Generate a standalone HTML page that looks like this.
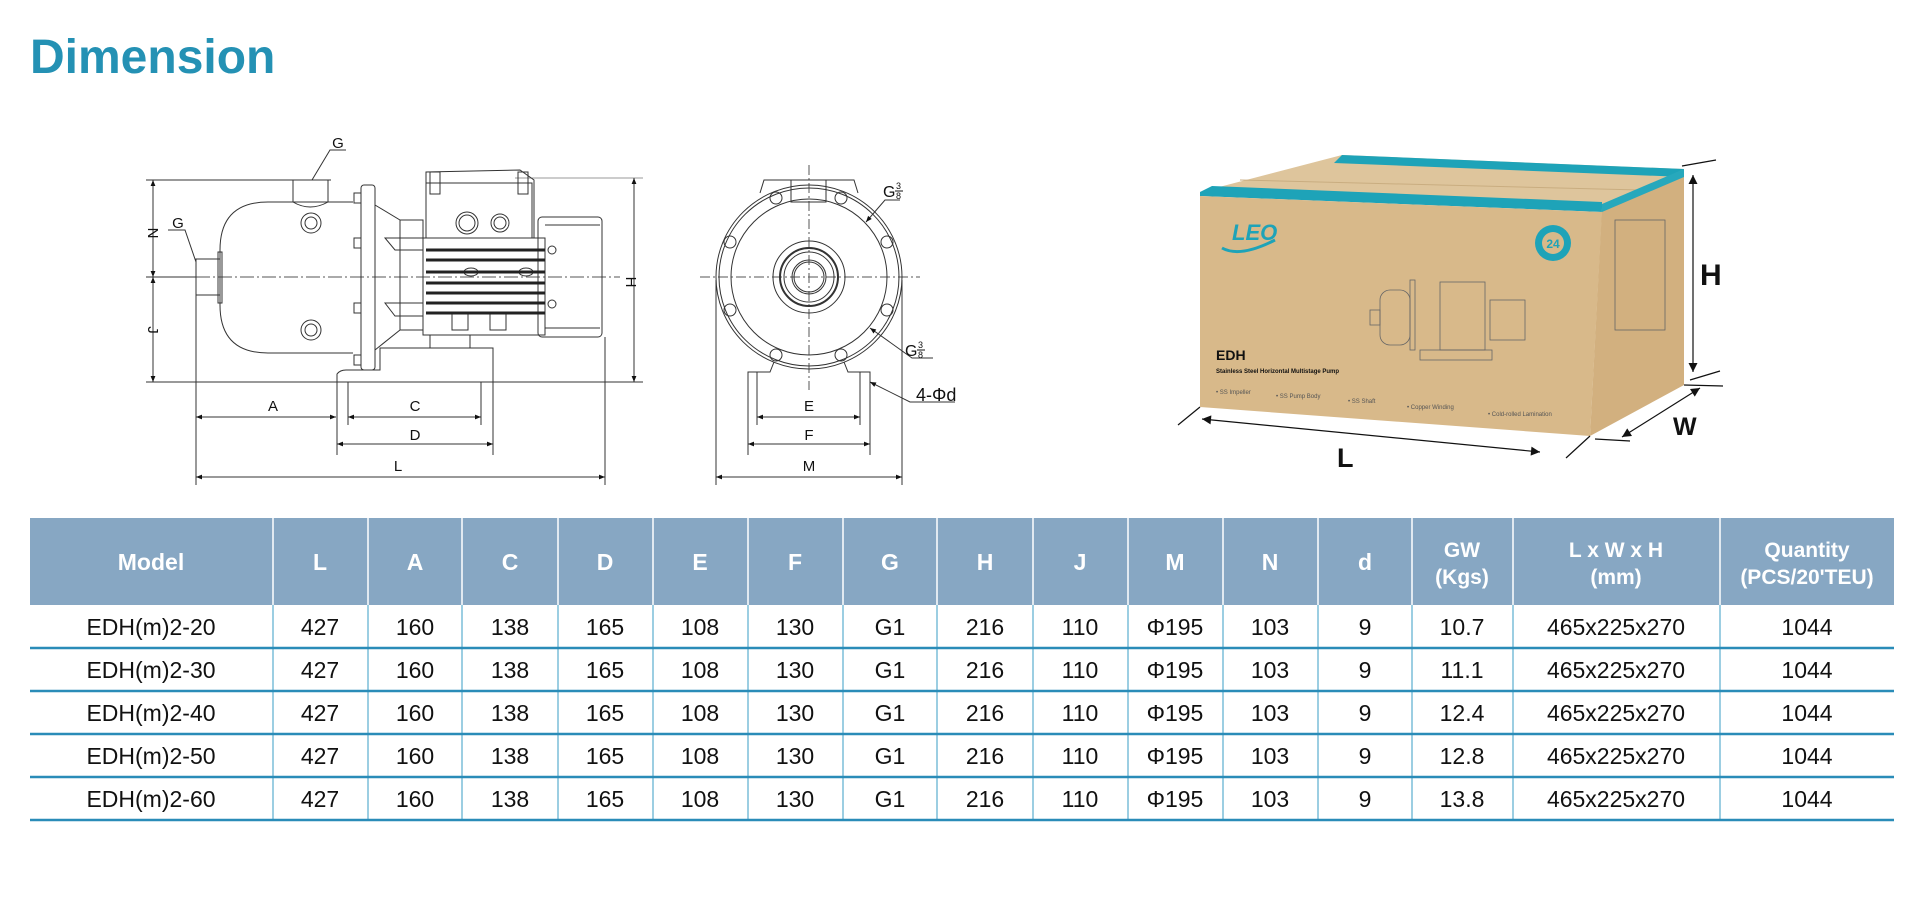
<!DOCTYPE html>
<html><head><meta charset="utf-8"><style>
html,body{margin:0;padding:0;background:#fff;}
svg{display:block;}
text{font-family:"Liberation Sans",Arial,sans-serif;}
</style></head><body>
<svg width="1926" height="897" viewBox="0 0 1926 897" xmlns="http://www.w3.org/2000/svg">
<defs>
<marker id="ar" viewBox="0 0 10 10" refX="10" refY="5" markerWidth="12" markerHeight="6" orient="auto-start-reverse" markerUnits="userSpaceOnUse"><path d="M0,1 L10,5 L0,9 z" fill="#111"/></marker>
<marker id="ab" viewBox="0 0 10 10" refX="10" refY="5" markerWidth="16" markerHeight="9" orient="auto-start-reverse" markerUnits="userSpaceOnUse"><path d="M0,0 L10,5 L0,10 z" fill="#111"/></marker>
</defs>
<rect width="1926" height="897" fill="#fff"/>
<text x="30" y="73" font-size="48" font-weight="bold" fill="#2491b4">Dimension</text>

<!-- SIDE VIEW -->
<g stroke="#333" stroke-width="1" fill="none">
<line x1="146" y1="180" x2="331" y2="180"/>
<line x1="515" y1="178" x2="643" y2="178" stroke="#999"/>
<line x1="146" y1="382" x2="643" y2="382"/>
<line x1="146" y1="277" x2="196" y2="277"/>
<line x1="153" y1="180" x2="153" y2="277" marker-start="url(#ar)" marker-end="url(#ar)"/>
<line x1="153" y1="277" x2="153" y2="382" marker-start="url(#ar)" marker-end="url(#ar)"/>
<line x1="634" y1="178" x2="634" y2="382" marker-start="url(#ar)" marker-end="url(#ar)"/>
<line x1="196" y1="277" x2="620" y2="277" stroke-dasharray="14,3,2,3" stroke="#555"/>
<path d="M353,202 L268,202 Q220,202 220,250 L220,305 Q220,353 268,353 L353,353"/>
<rect x="196" y="259" width="24" height="36"/>
<rect x="218" y="252" width="4" height="51"/>
<rect x="293" y="180" width="35" height="22"/>
<path d="M293,202 Q310,212 328,202"/>
<circle cx="311" cy="223" r="10"/><circle cx="311" cy="223" r="6"/>
<circle cx="311" cy="330" r="10"/><circle cx="311" cy="330" r="6"/>
<rect x="361" y="185" width="14" height="185" rx="3"/>
<rect x="354" y="193" width="7" height="10"/><rect x="354" y="238" width="7" height="10"/>
<rect x="354" y="303" width="7" height="10"/><rect x="354" y="355" width="7" height="10"/>
<path d="M375,205 L400,220 L423,220 M375,350 L400,330 L423,330"/>
<rect x="400" y="220" width="23" height="110"/>
<path d="M385,238 L423,238 L423,250 L395,250 Z M385,303 L423,303 L423,316 L395,316 Z"/>
<rect x="426" y="183" width="106" height="55"/>
<path d="M426,183 L426,172 L520,170 L534,180 L534,238"/>
<rect x="430" y="172" width="10" height="22"/><rect x="518" y="172" width="10" height="22"/>
<circle cx="467" cy="223" r="11"/><circle cx="467" cy="223" r="8"/>
<circle cx="500" cy="223" r="9"/><circle cx="500" cy="223" r="6"/>
<rect x="423" y="238" width="122" height="97"/>
<rect x="452" y="313" width="16" height="17"/><rect x="490" y="313" width="16" height="17"/>
<rect x="538" y="217" width="64" height="120" rx="4"/>
<line x1="545" y1="225" x2="600" y2="225"/><line x1="545" y1="328" x2="600" y2="328"/>
<circle cx="552" cy="250" r="4"/><circle cx="552" cy="304" r="4"/>
<ellipse cx="471" cy="272" rx="7" ry="4"/><ellipse cx="526" cy="272" rx="7" ry="4"/>
<path d="M337,382 L337,374 Q340,370 346,370 L380,370 L380,348 L493,348 L493,382"/>
<line x1="430" y1="335" x2="430" y2="348"/><line x1="470" y1="335" x2="470" y2="348"/>
<line x1="196" y1="295" x2="196" y2="485"/>
<line x1="337" y1="382" x2="337" y2="455"/>
<line x1="348" y1="382" x2="348" y2="425"/>
<line x1="481" y1="382" x2="481" y2="425"/>
<line x1="493" y1="382" x2="493" y2="455"/>
<line x1="605" y1="337" x2="605" y2="485"/>
<line x1="196" y1="417" x2="336" y2="417" marker-start="url(#ar)" marker-end="url(#ar)"/>
<line x1="348" y1="417" x2="481" y2="417" marker-start="url(#ar)" marker-end="url(#ar)"/>
<line x1="337" y1="444" x2="493" y2="444" marker-start="url(#ar)" marker-end="url(#ar)"/>
<line x1="196" y1="477" x2="605" y2="477" marker-start="url(#ar)" marker-end="url(#ar)"/>
<path d="M346,150 L330,150 L312,180" /><path d="M168,230 L185,230 L196,262"/>
</g>
<g stroke="#222" stroke-width="3">
<line x1="426" y1="250" x2="545" y2="250"/><line x1="426" y1="260" x2="545" y2="260"/>
<line x1="426" y1="272" x2="545" y2="272"/><line x1="426" y1="283" x2="545" y2="283"/>
<line x1="426" y1="293" x2="545" y2="293"/><line x1="426" y1="303" x2="545" y2="303"/>
<line x1="426" y1="313" x2="545" y2="313"/>
</g>
<g font-size="15" fill="#111" text-anchor="middle">
<text x="338" y="148">G</text><text x="178" y="228">G</text>
<text x="273" y="411">A</text><text x="415" y="411">C</text><text x="415" y="440">D</text><text x="398" y="471">L</text>
<text x="148" y="233" transform="rotate(90 148 233)">N</text>
<text x="148" y="330" transform="rotate(90 148 330)">J</text>
<text x="626" y="282" transform="rotate(90 626 282)">H</text>
</g>

<!-- FRONT VIEW -->
<g stroke="#333" stroke-width="1" fill="none">
<line x1="809" y1="165" x2="809" y2="390" stroke-dasharray="10,3,2,3" stroke="#555"/>
<line x1="700" y1="277" x2="920" y2="277" stroke-dasharray="10,3,2,3" stroke="#555"/>
<path d="M760,193 L764,180 L854,180 L858,193"/>
<rect x="791" y="180" width="35" height="22"/>
<ellipse cx="809" cy="277" rx="93" ry="92"/>
<ellipse cx="809" cy="277" rx="90" ry="89"/>
<circle cx="809" cy="277" r="78"/>
<circle cx="809" cy="277" r="36"/><circle cx="809" cy="277" r="29" stroke-width="2"/>
<circle cx="809" cy="277" r="25"/><circle cx="809" cy="277" r="17"/><circle cx="809" cy="277" r="15"/>
<circle cx="730" cy="242" r="6"/><circle cx="730" cy="310" r="6"/>
<circle cx="887" cy="242" r="6"/><circle cx="887" cy="310" r="6"/>
<circle cx="776" cy="198" r="6"/><circle cx="841" cy="198" r="6"/>
<circle cx="776" cy="355" r="6"/><circle cx="841" cy="355" r="6"/>
<path d="M748,382 L748,372 L770,372 L774,362 M870,382 L870,372 L848,372 L844,362"/>
<line x1="757" y1="372" x2="757" y2="425"/><line x1="860" y1="372" x2="860" y2="425"/>
<line x1="748" y1="382" x2="748" y2="455"/><line x1="870" y1="382" x2="870" y2="455"/>
<line x1="716" y1="280" x2="716" y2="485"/><line x1="902" y1="280" x2="902" y2="485"/>
<line x1="757" y1="417" x2="860" y2="417" marker-start="url(#ar)" marker-end="url(#ar)"/>
<line x1="748" y1="444" x2="870" y2="444" marker-start="url(#ar)" marker-end="url(#ar)"/>
<line x1="716" y1="477" x2="902" y2="477" marker-start="url(#ar)" marker-end="url(#ar)"/>
<path d="M900,200 L885,200 L866,222" marker-end="url(#ar)"/>
<path d="M933,358 L912,358 L870,328" marker-end="url(#ar)"/>
<path d="M955,402 L910,402 L870,382" marker-end="url(#ar)"/>
</g>
<g font-size="15" fill="#111" text-anchor="middle">
<text x="809" y="411">E</text><text x="809" y="440">F</text><text x="809" y="471">M</text>
</g>
<g fill="#111">
<text x="883" y="197" font-size="16">G</text><text x="896" y="189" font-size="9">3</text><text x="896" y="199" font-size="9">8</text>
<line x1="895" y1="191" x2="903" y2="191" stroke="#111"/>
<text x="905" y="356" font-size="16">G</text><text x="918" y="348" font-size="9">3</text><text x="918" y="358" font-size="9">8</text>
<line x1="917" y1="350" x2="925" y2="350" stroke="#111"/>
<text x="916" y="401" font-size="18">4-Φd</text>
</g>

<!-- BOX -->
<polygon points="1342,155 1684,169 1602,208 1200,192" fill="#dec59c"/>
<polygon points="1342,155 1684,169 1684,177 1334,163" fill="#1ea3b8"/>
<polygon points="1212,186 1602,202 1602,212 1200,196 1200,192" fill="#1ea3b8"/>
<line x1="1240" y1="180" x2="1640" y2="190" stroke="#c9ad80" stroke-width="1"/>
<polygon points="1200,196 1602,212 1590,436 1200,407" fill="#d8b98a"/>
<polygon points="1602,208 1684,169 1684,385 1590,436" fill="#d2b07f"/>
<polygon points="1602,204 1684,169 1684,177 1602,212" fill="#27a8bc"/>
<text x="1232" y="240" font-size="22" font-weight="bold" fill="#1ea3b8" font-style="italic">LEO</text>
<path d="M1222,248 Q1240,258 1275,240" stroke="#1ea3b8" stroke-width="3" fill="none"/>
<circle cx="1553" cy="243" r="18" fill="#1ea3b8"/><circle cx="1553" cy="243" r="11" fill="#d8b98a"/>
<text x="1553" y="248" font-size="12" font-weight="bold" fill="#1ea3b8" text-anchor="middle">24</text>
<text x="1216" y="360" font-size="14" font-weight="bold" fill="#111">EDH</text>
<text x="1216" y="373" font-size="6" font-weight="bold" fill="#111">Stainless Steel Horizontal Multistage Pump</text>
<g font-size="6" fill="#555">
<text x="1216" y="394">• SS Impeller</text><text x="1276" y="398">• SS Pump Body</text>
<text x="1348" y="403">• SS Shaft</text><text x="1407" y="409">• Copper Winding</text><text x="1488" y="416">• Cold-rolled Lamination</text>
</g>
<g stroke="#666" stroke-width="0.8" fill="none">
<rect x="1380" y="290" width="30" height="55" rx="10"/><rect x="1370" y="310" width="10" height="15"/>
<rect x="1410" y="280" width="5" height="70"/><rect x="1440" y="282" width="45" height="68"/>
<rect x="1490" y="300" width="35" height="40"/><rect x="1420" y="350" width="72" height="10"/>
<rect x="1615" y="220" width="50" height="110"/>
</g>
<g stroke="#111" stroke-width="1.2" fill="none">
<line x1="1200" y1="407" x2="1178" y2="425"/><line x1="1590" y1="436" x2="1566" y2="458"/>
<line x1="1682" y1="166" x2="1716" y2="160"/><line x1="1684" y1="385" x2="1723" y2="386"/>
<line x1="1595" y1="439" x2="1630" y2="441"/><line x1="1690" y1="380" x2="1720" y2="371"/>
<line x1="1202" y1="419" x2="1540" y2="452" marker-start="url(#ab)" marker-end="url(#ab)"/>
<line x1="1693" y1="175" x2="1693" y2="372" marker-start="url(#ab)" marker-end="url(#ab)"/>
<line x1="1700" y1="388" x2="1622" y2="437" marker-start="url(#ab)" marker-end="url(#ab)"/>
</g>
<g font-weight="bold" fill="#111">
<text x="1700" y="285" font-size="30">H</text>
<text x="1337" y="467" font-size="27">L</text>
<text x="1673" y="435" font-size="25">W</text>
</g>

<!-- TABLE -->
<rect x="30" y="518" width="1864" height="87" fill="#87a7c3"/>
<g stroke="#fff" stroke-width="1.5">
<line x1="273" y1="518" x2="273" y2="605"/><line x1="368" y1="518" x2="368" y2="605"/><line x1="462" y1="518" x2="462" y2="605"/>
<line x1="558" y1="518" x2="558" y2="605"/><line x1="653" y1="518" x2="653" y2="605"/><line x1="748" y1="518" x2="748" y2="605"/>
<line x1="843" y1="518" x2="843" y2="605"/><line x1="937" y1="518" x2="937" y2="605"/><line x1="1033" y1="518" x2="1033" y2="605"/>
<line x1="1128" y1="518" x2="1128" y2="605"/><line x1="1223" y1="518" x2="1223" y2="605"/><line x1="1318" y1="518" x2="1318" y2="605"/>
<line x1="1412" y1="518" x2="1412" y2="605"/><line x1="1513" y1="518" x2="1513" y2="605"/><line x1="1720" y1="518" x2="1720" y2="605"/>
</g>
<g stroke="#3a9cc4" stroke-width="1">
<line x1="273" y1="605" x2="273" y2="820"/><line x1="368" y1="605" x2="368" y2="820"/><line x1="462" y1="605" x2="462" y2="820"/>
<line x1="558" y1="605" x2="558" y2="820"/><line x1="653" y1="605" x2="653" y2="820"/><line x1="748" y1="605" x2="748" y2="820"/>
<line x1="843" y1="605" x2="843" y2="820"/><line x1="937" y1="605" x2="937" y2="820"/><line x1="1033" y1="605" x2="1033" y2="820"/>
<line x1="1128" y1="605" x2="1128" y2="820"/><line x1="1223" y1="605" x2="1223" y2="820"/><line x1="1318" y1="605" x2="1318" y2="820"/>
<line x1="1412" y1="605" x2="1412" y2="820"/><line x1="1513" y1="605" x2="1513" y2="820"/><line x1="1720" y1="605" x2="1720" y2="820"/>
</g>
<g stroke="#2a8cb8" stroke-width="2.5">
<line x1="30" y1="648" x2="1894" y2="648"/><line x1="30" y1="691" x2="1894" y2="691"/>
<line x1="30" y1="734" x2="1894" y2="734"/><line x1="30" y1="777" x2="1894" y2="777"/><line x1="30" y1="820" x2="1894" y2="820"/>
</g>
<g font-size="23" font-weight="bold" fill="#fff" text-anchor="middle">
<text x="151" y="570">Model</text><text x="320" y="570">L</text><text x="415" y="570">A</text><text x="510" y="570">C</text>
<text x="605" y="570">D</text><text x="700" y="570">E</text><text x="795" y="570">F</text><text x="890" y="570">G</text>
<text x="985" y="570">H</text><text x="1080" y="570">J</text><text x="1175" y="570">M</text><text x="1270" y="570">N</text>
<text x="1365" y="570">d</text>
<text x="1462" y="557" font-size="21">GW</text><text x="1462" y="584" font-size="21">(Kgs)</text>
<text x="1616" y="557" font-size="21">L x W x H</text><text x="1616" y="584" font-size="21">(mm)</text>
<text x="1807" y="557" font-size="21">Quantity</text><text x="1807" y="584" font-size="21">(PCS/20'TEU)</text>
</g>
<g font-size="23" fill="#111" text-anchor="middle">
<g>
<text x="151" y="635">EDH(m)2-20</text><text x="320" y="635">427</text><text x="415" y="635">160</text><text x="510" y="635">138</text>
<text x="605" y="635">165</text><text x="700" y="635">108</text><text x="795" y="635">130</text><text x="890" y="635">G1</text>
<text x="985" y="635">216</text><text x="1080" y="635">110</text><text x="1175" y="635">Φ195</text><text x="1270" y="635">103</text>
<text x="1365" y="635">9</text><text x="1462" y="635">10.7</text><text x="1616" y="635">465x225x270</text><text x="1807" y="635">1044</text>
</g>
<g>
<text x="151" y="678">EDH(m)2-30</text><text x="320" y="678">427</text><text x="415" y="678">160</text><text x="510" y="678">138</text>
<text x="605" y="678">165</text><text x="700" y="678">108</text><text x="795" y="678">130</text><text x="890" y="678">G1</text>
<text x="985" y="678">216</text><text x="1080" y="678">110</text><text x="1175" y="678">Φ195</text><text x="1270" y="678">103</text>
<text x="1365" y="678">9</text><text x="1462" y="678">11.1</text><text x="1616" y="678">465x225x270</text><text x="1807" y="678">1044</text>
</g>
<g>
<text x="151" y="721">EDH(m)2-40</text><text x="320" y="721">427</text><text x="415" y="721">160</text><text x="510" y="721">138</text>
<text x="605" y="721">165</text><text x="700" y="721">108</text><text x="795" y="721">130</text><text x="890" y="721">G1</text>
<text x="985" y="721">216</text><text x="1080" y="721">110</text><text x="1175" y="721">Φ195</text><text x="1270" y="721">103</text>
<text x="1365" y="721">9</text><text x="1462" y="721">12.4</text><text x="1616" y="721">465x225x270</text><text x="1807" y="721">1044</text>
</g>
<g>
<text x="151" y="764">EDH(m)2-50</text><text x="320" y="764">427</text><text x="415" y="764">160</text><text x="510" y="764">138</text>
<text x="605" y="764">165</text><text x="700" y="764">108</text><text x="795" y="764">130</text><text x="890" y="764">G1</text>
<text x="985" y="764">216</text><text x="1080" y="764">110</text><text x="1175" y="764">Φ195</text><text x="1270" y="764">103</text>
<text x="1365" y="764">9</text><text x="1462" y="764">12.8</text><text x="1616" y="764">465x225x270</text><text x="1807" y="764">1044</text>
</g>
<g>
<text x="151" y="807">EDH(m)2-60</text><text x="320" y="807">427</text><text x="415" y="807">160</text><text x="510" y="807">138</text>
<text x="605" y="807">165</text><text x="700" y="807">108</text><text x="795" y="807">130</text><text x="890" y="807">G1</text>
<text x="985" y="807">216</text><text x="1080" y="807">110</text><text x="1175" y="807">Φ195</text><text x="1270" y="807">103</text>
<text x="1365" y="807">9</text><text x="1462" y="807">13.8</text><text x="1616" y="807">465x225x270</text><text x="1807" y="807">1044</text>
</g>
</g>
</svg>
</body></html>
